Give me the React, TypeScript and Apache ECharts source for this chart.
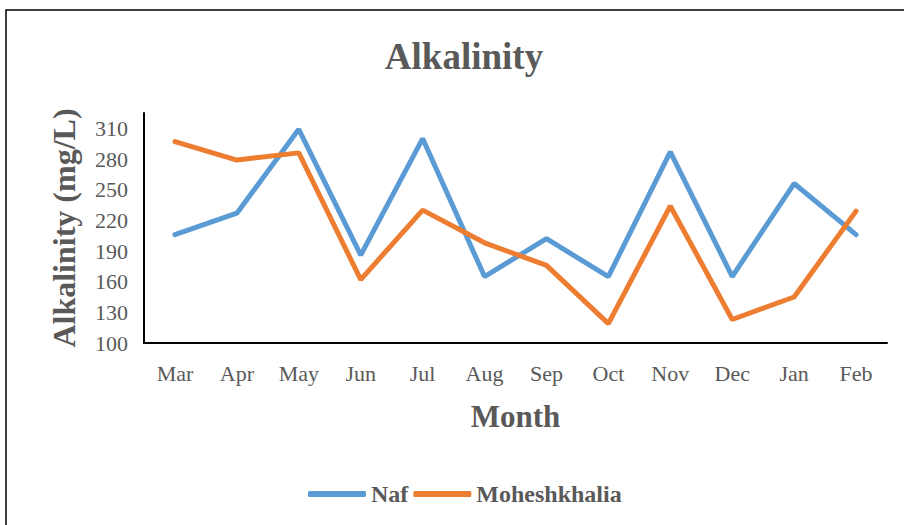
import React, { useEffect, useRef } from "react";
import * as echarts from "echarts";

const months = ["Mar", "Apr", "May", "Jun", "Jul", "Aug", "Sep", "Oct", "Nov", "Dec", "Jan", "Feb"];
const naf = [206, 227, 309, 186, 300, 165, 202, 165, 287, 165, 256, 206];
const moheshkhalia = [297, 279, 286, 162, 230, 198, 176, 119, 234, 123, 145, 229];
const seriesNames = ["Naf", "Moheshkhalia"];
const titleText = "Alkalinity";
const xAxisName = "Month";
const yAxisName = "Alkalinity (mg/L)";

const FONT = '"Liberation Serif", "Times New Roman", serif';
const TEXT = "#595959";

export default function App() {
  const ref = useRef<HTMLDivElement>(null);
  useEffect(() => {
    if (!ref.current) return;
    const chart = echarts.init(ref.current, undefined, { renderer: "svg" });
    chart.setOption({
      animation: false,
      textStyle: { fontFamily: FONT },
      title: {
        text: titleText,
        left: 459,
        top: 33,
        textAlign: "center",
        textStyle: { fontFamily: FONT, fontSize: 37, fontWeight: "bold", color: TEXT },
      },
      graphic: [
        {
          type: "rect",
          shape: { x: 6, y: 10, width: 940, height: 540 },
          style: { fill: "none", stroke: "#000", lineWidth: 1.5 },
          silent: true,
        },
      ],
      legend: {
        data: seriesNames,
        left: 303,
        top: 477,
        icon: "roundRect",
        itemWidth: 58,
        itemHeight: 6,
        itemGap: 5,
        textStyle: { fontFamily: FONT, fontSize: 24, fontWeight: "bold", color: TEXT, padding: [0, 0, 0, 0] },
      },
      grid: { left: 144, right: 17, top: 113, bottom: 182, containLabel: false },
      xAxis: {
        type: "category",
        data: months,
        boundaryGap: true,
        name: xAxisName,
        nameLocation: "middle",
        nameGap: 58,
        nameTextStyle: { fontFamily: FONT, fontSize: 31, fontWeight: "bold", color: TEXT },
        axisLine: { lineStyle: { color: "#000", width: 2 } },
        axisTick: { show: false },
        axisLabel: { fontFamily: FONT, fontSize: 22, color: TEXT, margin: 19 },
      },
      yAxis: {
        type: "value",
        min: 100,
        max: 325,
        interval: 30,
        name: yAxisName,
        nameLocation: "middle",
        nameGap: 64,
        nameTextStyle: { fontFamily: FONT, fontSize: 32, fontWeight: "bold", color: TEXT },
        axisLine: { show: true, lineStyle: { color: "#000", width: 2 } },
        axisTick: { show: false },
        splitLine: { show: false },
        axisLabel: { fontFamily: FONT, fontSize: 22, color: TEXT, margin: 16, showMaxLabel: false },
      },
      series: [
        {
          name: seriesNames[0],
          type: "line",
          data: naf,
          symbol: "none",
          itemStyle: { color: "#5B9BD5" },
          lineStyle: { color: "#5B9BD5", width: 5, cap: "round" },
        },
        {
          name: seriesNames[1],
          type: "line",
          data: moheshkhalia,
          symbol: "none",
          itemStyle: { color: "#ED7D31" },
          lineStyle: { color: "#ED7D31", width: 5, cap: "round" },
        },
      ],
    });
    return () => chart.dispose();
  }, []);
  return (
    <div
      ref={ref}
      style={{ position: "fixed", left: 0, top: 0, width: 904, height: 525, background: "#fff" }}
    />
  );
}
